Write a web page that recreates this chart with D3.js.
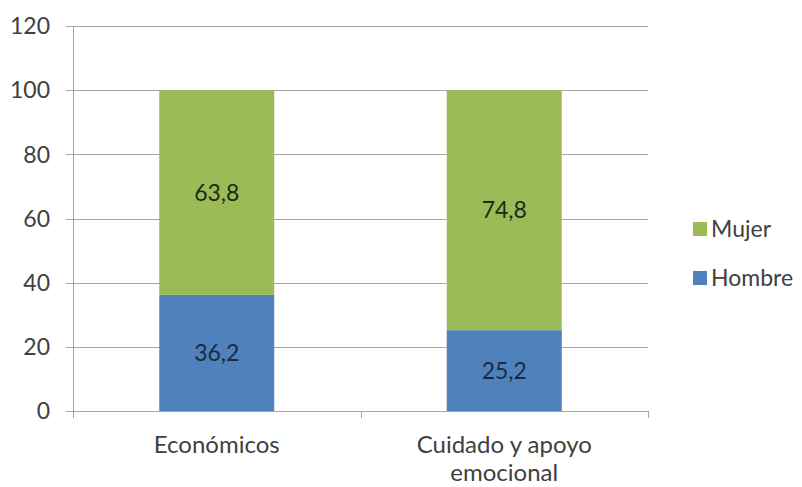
<!DOCTYPE html>
<html><head><meta charset="utf-8">
<script src="https://cdn.jsdelivr.net/npm/d3@7/dist/d3.min.js"></script>
<style>body{margin:0;background:#fff}svg{display:block}text{font-family:Lato,"Open Sans",sans-serif}</style>
</head><body>
<svg id="c" width="802" height="487"></svg>
<script>
const categories = [["Económicos"], ["Cuidado y apoyo", "emocional"]];
const hombre = [36.2, 25.2];
const mujer = [63.8, 74.8];
const hombreLabels = ["36,2", "25,2"];
const mujerLabels = ["63,8", "74,8"];
const yTicks = [0, 20, 40, 60, 80, 100, 120];
const seriesNames = ["Mujer", "Hombre"];
const colors = {Hombre: "#4F81BD", Mujer: "#9BBB59"};

(function () {
const svg = d3.select("#c");
const pL = 73, pR = 648, pT = 26, pB = 411;
const y = d3.scaleLinear().domain([0, 120]).range([pB, pT]);
const x = d3.scaleBand().domain(d3.range(categories.length)).range([pL, pR]).paddingInner(0).paddingOuter(0);
const bw = x.bandwidth() * 0.4, off = x.bandwidth() * 0.3;
const gridColor = "#a6a6a6";
const fs = 23;

svg.append("g").selectAll("line").data(yTicks).join("line")
  .attr("x1", pL - 7).attr("x2", pR)
  .attr("y1", d => Math.round(y(d)) + 0.5).attr("y2", d => Math.round(y(d)) + 0.5)
  .attr("stroke", gridColor).attr("stroke-width", 1);
svg.append("line").attr("x1", pL + 0.5).attr("x2", pL + 0.5).attr("y1", y(120)).attr("y2", y(0))
  .attr("stroke", gridColor);
const catTicks = [pL, ...d3.range(categories.length).map(i => x(i) + x.bandwidth())];
svg.append("g").selectAll("line").data(catTicks).join("line")
  .attr("x1", d => Math.round(d) + 0.5).attr("x2", d => Math.round(d) + 0.5)
  .attr("y1", y(0)).attr("y2", y(0) + 7).attr("stroke", gridColor);

svg.append("g").selectAll("text").data(yTicks).join("text")
  .attr("x", 50).attr("y", d => y(d)).attr("dy", "0.36em").attr("text-anchor", "end")
  .attr("font-size", fs).attr("fill", "#404040").text(d => d);

const g = svg.append("g");
categories.forEach((c, i) => {
  const x0 = x(i) + off;
  g.append("rect").attr("x", x0).attr("width", bw).attr("y", y(hombre[i])).attr("height", y(0) - y(hombre[i])).attr("fill", colors.Hombre);
  g.append("rect").attr("x", x0).attr("width", bw).attr("y", y(hombre[i] + mujer[i])).attr("height", y(hombre[i]) - y(hombre[i] + mujer[i])).attr("fill", colors.Mujer);
  g.append("text").attr("x", x0 + bw / 2).attr("y", (y(0) + y(hombre[i])) / 2).attr("dy", "0.36em")
    .attr("text-anchor", "middle").attr("font-size", fs).attr("fill", "#1c2a3c").text(hombreLabels[i]);
  g.append("text").attr("x", x0 + bw / 2).attr("y", (y(hombre[i]) + y(hombre[i] + mujer[i])) / 2).attr("dy", "0.36em")
    .attr("text-anchor", "middle").attr("font-size", fs).attr("fill", "#1f2a14").text(mujerLabels[i]);
  const t = svg.append("text").attr("text-anchor", "middle").attr("font-size", 24).attr("fill", "#404040");
  c.forEach((line, j) => t.append("tspan").attr("x", x(i) + x.bandwidth() / 2).attr("y", 453 + j * 28).text(line));
});

const lg = svg.append("g");
seriesNames.forEach((s, i) => {
  const cy = 229 + i * 49;
  lg.append("rect").attr("x", 693).attr("y", cy - 7).attr("width", 14).attr("height", 14).attr("fill", colors[s]);
  lg.append("text").attr("x", 711).attr("y", cy).attr("dy", "0.36em").attr("font-size", fs).attr("fill", "#404040").text(s);
});
})();
</script>
</body></html>
